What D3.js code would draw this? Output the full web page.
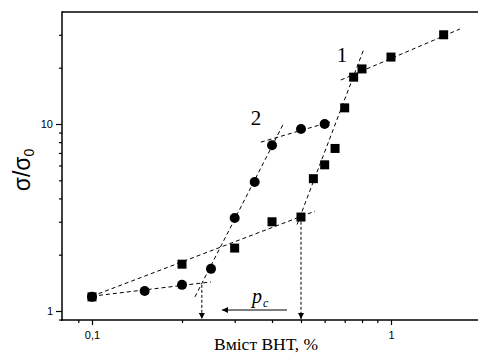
<!DOCTYPE html>
<html><head><meta charset="utf-8">
<script src="https://cdnjs.cloudflare.com/ajax/libs/d3/7.8.5/d3.min.js"></script>
<style>body{margin:0;background:#fff}svg{display:block}
.serif{font-family:"Liberation Serif","Times New Roman",Times,serif}
.sans{font-family:"Liberation Sans",Arial,Helvetica,sans-serif}
</style>
</head><body>
<script>
// Series 1 (squares)
const x1 = [0.1, 0.2, 0.3, 0.4, 0.5, 0.55, 0.6, 0.65, 0.7, 0.75, 0.8, 1.0, 1.5];
const y1 = [1.19, 1.78, 2.17, 3.0, 3.18, 5.1, 6.05, 7.4, 12.2, 17.8, 19.7, 22.8, 30];
// Series 2 (circles)
const x2 = [0.1, 0.15, 0.2, 0.25, 0.3, 0.35, 0.4, 0.5, 0.6];
const y2 = [1.19, 1.28, 1.38, 1.68, 3.14, 4.9, 7.7, 9.4, 10];
// Dashed fit segments [x0,y0,x1,y1]
const fit1 = [[0.1, 1.2, 0.557, 3.42], [0.485, 2.9, 0.81, 25], [0.68, 17.2, 1.70, 32.2]];
const fit2 = [[0.1, 1.2, 0.25, 1.43], [0.221, 1.19, 0.435, 9.9], [0.367, 8.0, 0.625, 10.25]];
// Percolation thresholds (vertical arrows): x, start y
const thrX = [0.5, 0.233];
const thrY = [3.0, 1.38];
// p_c arrow
const pcArrow = [0.449, 0.272];
const xMajor = [0.1, 1];
const xMajorLabels = ["0,1", "1"];
const xMinor = [0.09, 0.2, 0.3, 0.4, 0.5, 0.6, 0.7, 0.8, 0.9, 2];
const yMajor = [1, 10];
const yMajorLabels = ["1", "10"];
const yMinor = [0.9, 2, 3, 4, 5, 6, 7, 8, 9, 20, 30];

const W = 478, H = 354;
const svg = d3.select("body").append("svg").attr("width", W).attr("height", H);
const x = d3.scaleLog().domain([0.1, 1]).range([92, 391]);
const y = d3.scaleLog().domain([1, 10]).range([311, 124]);
const L = 62, T = 12, B = 320, R = 490;

const defs = svg.append("defs");
defs.append("marker").attr("id", "ah").attr("viewBox", "0 0 10 10").attr("refX", 10).attr("refY", 5)
  .attr("markerWidth", 6).attr("markerHeight", 6).attr("markerUnits", "userSpaceOnUse").attr("orient", "auto")
  .append("path").attr("d", "M0,0L10,5L0,10Z").attr("fill", "#000");

// frame
svg.append("line").attr("x1", L).attr("x2", R).attr("y1", T).attr("y2", T).attr("stroke", "#000").attr("stroke-width", 1.5);

const fmtX = d => xMajorLabels[xMajor.indexOf(d)];
const fmtY = d => yMajorLabels[yMajor.indexOf(d)];

const gx = svg.append("g").attr("transform", `translate(0,${B})`);
gx.call(d3.axisBottom(x).tickValues(xMajor).tickFormat(fmtX).tickSize(5).tickSizeOuter(0));
const gxm = svg.append("g").attr("transform", `translate(0,${B})`);
gxm.call(d3.axisBottom(x).tickValues(xMinor).tickFormat("").tickSize(3).tickSizeOuter(0));
[gx, gxm].forEach(g => { g.select(".domain").remove(); g.selectAll("line").attr("stroke-width", 1.2); });
gx.selectAll("text").attr("class", "sans").attr("font-size", 11).attr("dy", "1.0em").attr("fill", "#000");
svg.append("line").attr("x1", L - 1).attr("x2", R).attr("y1", B).attr("y2", B).attr("stroke", "#000").attr("stroke-width", 1.5);

const gy = svg.append("g").attr("transform", `translate(${L},0)`);
gy.call(d3.axisLeft(y).tickValues(yMajor).tickFormat(fmtY).tickSize(6).tickSizeOuter(0));
const gym = svg.append("g").attr("transform", `translate(${L},0)`);
gym.call(d3.axisLeft(y).tickValues(yMinor).tickFormat("").tickSize(3).tickSizeOuter(0));
[gy, gym].forEach(g => { g.select(".domain").remove(); g.selectAll("line").attr("stroke-width", 1.2); });
gy.selectAll("text").attr("class", "sans").attr("font-size", 11).attr("fill", "#000").attr("x", -9);
gx.attr("font-family", null); gy.attr("font-family", null);
svg.append("line").attr("x1", L).attr("x2", L).attr("y1", T - 0.75).attr("y2", B + 0.75).attr("stroke", "#000").attr("stroke-width", 1.5);

// fit lines
const dash = "4,3";
svg.append("g").selectAll("line").data(fit1.concat(fit2)).join("line")
  .attr("x1", d => x(d[0])).attr("y1", d => y(d[1])).attr("x2", d => x(d[2])).attr("y2", d => y(d[3]))
  .attr("stroke", "#000").attr("stroke-width", 1).attr("stroke-dasharray", dash);

// vertical threshold arrows
svg.append("g").selectAll("line").data(thrX).join("line")
  .attr("x1", d => x(d)).attr("x2", d => x(d))
  .attr("y1", (d, i) => y(thrY[i])).attr("y2", B - 1)
  .attr("stroke", "#000").attr("stroke-width", 1).attr("stroke-dasharray", "3,2")
  .attr("marker-end", "url(#ah)");

// p_c arrow
svg.append("line").attr("x1", x(pcArrow[0])).attr("x2", x(pcArrow[1])).attr("y1", 310).attr("y2", 310)
  .attr("stroke", "#000").attr("stroke-width", 1).attr("marker-end", "url(#ah)");
const pc = svg.append("text").attr("class", "serif").attr("x", 252).attr("y", 303)
  .attr("font-style", "italic").attr("font-size", 20);
pc.append("tspan").text("p");
pc.append("tspan").attr("font-size", 12).attr("dy", 4).attr("dx", 1).text("c");

// markers
svg.append("g").selectAll("rect").data(x1).join("rect")
  .attr("x", d => x(d) - 4.5).attr("y", (d, i) => y(y1[i]) - 4.5).attr("width", 9).attr("height", 9).attr("fill", "#000");
svg.append("g").selectAll("circle").data(x2).join("circle")
  .attr("cx", d => x(d)).attr("cy", (d, i) => y(y2[i])).attr("r", 5).attr("fill", "#000");

// series labels
svg.append("text").attr("class", "serif").attr("x", 342).attr("y", 62).attr("text-anchor", "middle").attr("font-size", 21).text("1");
svg.append("text").attr("class", "serif").attr("x", 256).attr("y", 125).attr("text-anchor", "middle").attr("font-size", 21).text("2");

// axis titles
svg.append("text").attr("class", "serif").attr("x", 266).attr("y", 350).attr("text-anchor", "middle").attr("font-size", 17.5).text("Вміст ВНТ, %");
const yt = svg.append("text").attr("class", "sans").attr("transform", "translate(30,170) rotate(-90)").attr("text-anchor", "middle")
  .attr("font-size", 23);
yt.append("tspan").text("σ/σ");
yt.append("tspan").attr("font-size", 14).attr("dy", 4).text("0");
</script>
</body></html>
